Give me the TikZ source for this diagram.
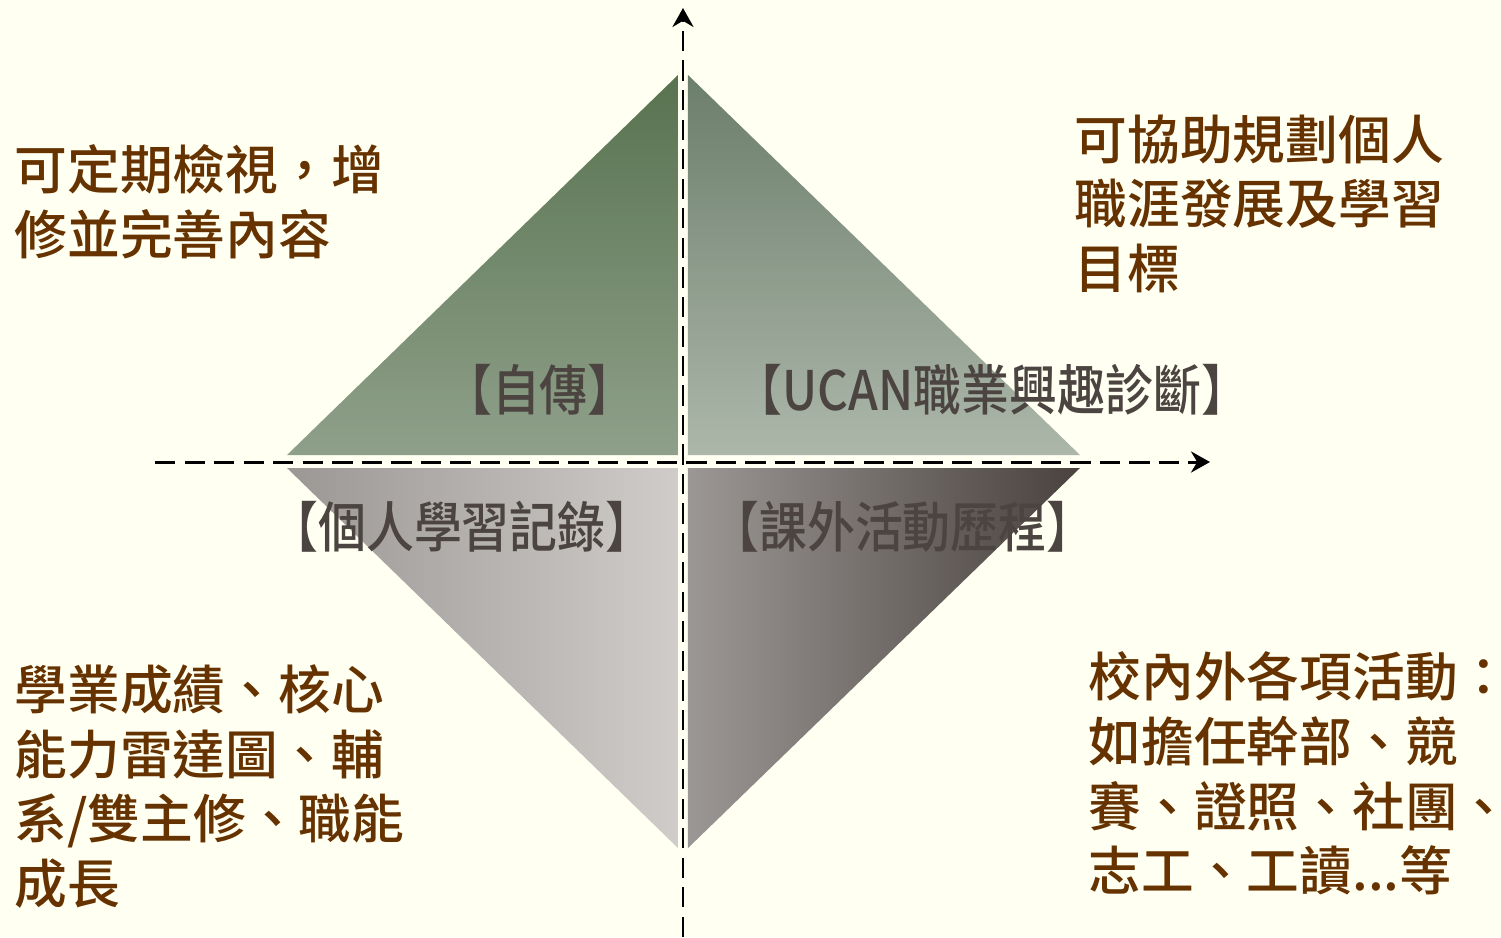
\documentclass[tikz,border=0pt]{standalone}
\usepackage{fontspec}
\setmainfont{Noto Sans CJK TC}[BoldFont={Noto Sans CJK TC Medium}]
\newfontfamily\labelfont{Noto Sans CJK TC Medium}[FakeStretch=0.88]
\usepackage{tikz}
\usetikzlibrary{calc}
\usetikzlibrary{arrows.meta}
\usepackage{xcolor}
\definecolor{bgcream}{RGB}{255,255,242}
\definecolor{notebrown}{RGB}{102,51,0}
\definecolor{labelgray}{RGB}{75,68,64}
\definecolor{greendark}{RGB}{88,115,80}
\definecolor{greenlight}{RGB}{143,160,138}
\definecolor{sagedark}{RGB}{108,126,108}
\definecolor{sagelight}{RGB}{172,183,169}
\definecolor{graymid}{RGB}{155,151,148}
\definecolor{graylight}{RGB}{207,204,201}
\definecolor{graydark}{RGB}{73,66,63}
\tikzset{
  axis line/.style={line width=0.85pt, dash pattern=on 5.8pt off 2.6pt,
    -{Stealth[length=5.4pt,width=6pt]}},
  note text/.style={anchor=north west, align=left, inner sep=0pt,
    text=notebrown, font=\fontsize{15}{18.4}\selectfont\bfseries},
  quad label/.style={inner sep=0pt, text=labelgray,
    font=\labelfont\fontsize{15.5}{17}\selectfont},
}

\begin{document}
\begin{tikzpicture}

%%%%%%%%%%%%%%%%%%%%%%%%%%%%%%%%%%%%%%%%%%%%%%%%%%%%%%%%%%%%%% Setup
\coordinate (C) at (0, 0);
% page with the cream background
\fill[bgcream] ($(C)+(-6.83,-4.75)$) rectangle ($(C)+(8.18,4.62)$);
\useasboundingbox ($(C)+(-6.83,-4.75)$) rectangle ($(C)+(8.18,4.62)$);

%%%%%%%%%%%%%%%%%%%%%%%%%%%%%%%%%%%%%%%%%%%%%%%%%%%%%%%%%%%%%% Diamond
\shade[top color=greendark, bottom color=greenlight]
  ($(C)+(-0.05,3.87)$) -- ($(C)+(-3.96,0.07)$) -- ($(C)+(-0.05,0.07)$) -- cycle;
\shade[top color=sagedark, bottom color=sagelight]
  ($(C)+(0.05,3.87)$) -- ($(C)+(0.05,0.07)$) -- ($(C)+(3.97,0.07)$) -- cycle;
\shade[left color=graymid, right color=graylight]
  ($(C)+(-3.96,-0.06)$) -- ($(C)+(-0.05,-0.06)$) -- ($(C)+(-0.05,-3.86)$) -- cycle;
\shade[left color=graymid, right color=graydark]
  ($(C)+(0.05,-0.06)$) -- ($(C)+(3.97,-0.06)$) -- ($(C)+(0.05,-3.86)$) -- cycle;

%%%%%%%%%%%%%%%%%%%%%%%%%%%%%%%%%%%%%%%%%%%%%%%%%%%%%%%%%%%%%% Axes
\coordinate (xstart) at ($(C)+(-5.28,0)$);
\coordinate (xend) at ($(C)+(5.27,0)$);
\coordinate (ystart) at ($(C)+(0,-4.75)$);
\coordinate (yend) at ($(C)+(0,4.54)$);
\draw[axis line] (xstart) -- (xend);
\draw[axis line] (ystart) -- (yend);

%%%%%%%%%%%%%%%%%%%%%%%%%%%%%%%%%%%%%%%%%%%%%%%%%%%%%%%%%%%%%% Labels
\node[quad label] (autobio) at ($(C)+(-1.43,0.72)$) {【自傳】};
\node[quad label] (ucan) at ($(C)+(3.09,0.72)$) {【UCAN職業興趣診斷】};
\node[quad label] (record) at ($(C)+(-2.21,-0.65)$) {【個人學習記錄】};
\node[quad label] (activity) at ($(C)+(2.20,-0.65)$) {【課外活動歷程】};

%%%%%%%%%%%%%%%%%%%%%%%%%%%%%%%%%%%%%%%%%%%%%%%%%%%%%%%%%%%%%% Notes
\node[note text] (reviewnote) at ($(C)+(-6.69,3.18)$) {可定期檢視，增\\修並完善內容};
\node[note text] (plannote) at ($(C)+(3.91,3.48)$) {可協助規劃個人\\職涯發展及學習\\目標};
\node[note text] (gradenote) at ($(C)+(-6.69,-2.02)$) {學業成績、核心\\能力雷達圖、輔\\系/雙主修、職能\\成長};
\node[note text] (clubnote) at ($(C)+(4.05,-1.89)$) {校內外各項活動：\\如擔任幹部、競\\賽、證照、社團、\\志工、工讀...等};

\end{tikzpicture}
\end{document}
